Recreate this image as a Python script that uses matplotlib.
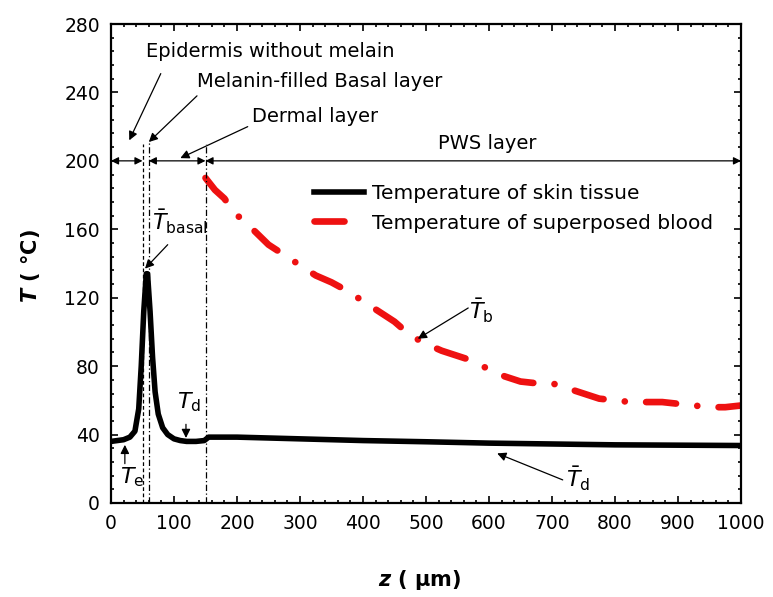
import matplotlib.pyplot as plt
import numpy as np

plt.rcParams['font.family'] = 'DejaVu Sans'
plt.rcParams['mathtext.fontset'] = 'dejavusans'

# skin tissue temperature (black)
z_skin = [0, 10, 20, 30, 38, 44, 48, 52, 56, 58, 62, 66, 70, 75, 82, 90,
          100, 110, 120, 135, 148, 155, 200, 300, 400, 500, 600, 700, 800, 900, 1000]
T_skin = [36, 36.5, 37, 38.5, 42, 55, 80, 112, 134, 134, 112, 85, 65, 52, 44, 40,
          37.5, 36.5, 36, 36, 36.5, 38.5, 38.5, 37.5, 36.5, 35.8, 35, 34.5, 34, 33.8, 33.6]

# superposed blood temperature (red)
z_blood = [150, 165, 180, 195, 210, 225, 250, 275, 300, 325, 350, 375, 400, 425,
           450, 475, 500, 525, 550, 575, 600, 625, 650, 675, 700, 725, 750, 775,
           800, 825, 850, 875, 900, 925, 950, 975, 1000]
T_blood = [190, 183, 178, 170, 165, 160, 151, 145, 139, 133, 129, 124, 118, 112,
           106, 98, 93, 89, 86, 83, 78, 74, 71, 70, 70, 67, 64, 61,
           60, 59, 59, 59, 58, 57, 56, 56, 57]

# layer boundaries (um)
z_bounds = [50, 60, 150]

fig = plt.figure(figsize=(7.73, 5.97), dpi=100)
ax = fig.add_axes([111/773, 1 - 503/597, 630/773, 479/597])

ax.plot(z_skin, T_skin, color='black', lw=4, solid_joinstyle='round',
        label='Temperature of skin tissue')
ax.plot(z_blood, T_blood, color='#ee1111', lw=4.8, dash_capstyle='round',
        linestyle=(0, (4.5, 3.2, 0.01, 3.2)),
        label='Temperature of superposed blood')

# layer boundary lines
ax.plot([z_bounds[0]] * 2, [0, 210], color='black', lw=0.9, ls=(0, (3, 2)))
ax.plot([z_bounds[1]] * 2, [0, 211], color='black', lw=0.9, ls=(0, (5, 2, 1, 2)))
ax.plot([z_bounds[2]] * 2, [0, 210], color='black', lw=0.9, ls=(0, (5, 2, 1, 2)))

# horizontal double arrows at T=200
arr = dict(arrowstyle='<|-|>', color='black', lw=0.9, mutation_scale=11,
           shrinkA=0, shrinkB=0)
for a, b in [(0, 50), (60, 150), (150, 1000)]:
    ax.annotate('', xy=(a, 200), xytext=(b, 200), arrowprops=arr)

# layer labels
one = dict(arrowstyle='-|>', color='black', lw=0.9, mutation_scale=13,
           shrinkA=0, shrinkB=0)
ax.text(55, 264, 'Epidermis without melain', fontsize=14, ha='left', va='center')
ax.annotate('', xy=(29, 212), xytext=(79, 251), arrowprops=one)
ax.text(136, 246.5, 'Melanin-filled Basal layer', fontsize=14, ha='left', va='center')
ax.annotate('', xy=(60, 211), xytext=(136.5, 238), arrowprops=one)
ax.text(224, 226, 'Dermal layer', fontsize=14, ha='left', va='center')
ax.annotate('', xy=(110, 201.6), xytext=(217, 220), arrowprops=one)
ax.text(597, 210, 'PWS layer', fontsize=14, ha='center', va='center')

# temperature markers
ax.text(110, 164, r'$\bar{T}_{\mathrm{basal}}$', fontsize=16, ha='center', va='center')
ax.annotate('', xy=(54, 137), xytext=(90, 151), arrowprops=one)
ax.text(33, 15, r'$T_{\mathrm{e}}$', fontsize=16, ha='center', va='center')
ax.annotate('', xy=(22, 34), xytext=(22, 23), arrowprops=one)
ax.text(124, 59, r'$T_{\mathrm{d}}$', fontsize=16, ha='center', va='center')
ax.annotate('', xy=(119, 38), xytext=(119, 46), arrowprops=one)
ax.text(588, 112, r'$\bar{T}_{\mathrm{b}}$', fontsize=16, ha='center', va='center')
ax.annotate('', xy=(487, 96), xytext=(567, 114), arrowprops=one)
ax.text(742, 14, r'$\bar{T}_{\mathrm{d}}$', fontsize=16, ha='center', va='center')
ax.annotate('', xy=(613, 29), xytext=(717, 13.5), arrowprops=one)

ax.set_xlim(0, 1000)
ax.set_ylim(0, 280)
ax.set_xticks(np.arange(0, 1001, 100))
ax.set_yticks(np.arange(0, 281, 40))
ax.set_xticks(np.arange(0, 1001, 20), minor=True)
ax.set_yticks(np.arange(0, 281, 8), minor=True)
ax.tick_params(which='both', direction='in', top=True, right=True, width=1.2,
               labelsize=13.5)
ax.tick_params(which='major', length=5, pad=8)
ax.tick_params(which='minor', length=2.5)
for s in ax.spines.values():
    s.set_linewidth(1.6)

ax.set_xlabel(r'$\mathbfit{z}$ ( μm)', fontsize=15, fontweight='bold')
ax.set_ylabel(r'$\mathbfit{T}$ ( °C)', fontsize=15, fontweight='bold')
ax.xaxis.set_label_coords(0.49, -0.135)
ax.yaxis.set_label_coords(-0.11, 0.495)

ax.legend(loc='upper left', bbox_to_anchor=(0.322, 0.665), frameon=False,
          fontsize=14.5, handlelength=2.5, handletextpad=0.4, labelspacing=0.5,
          borderpad=0, borderaxespad=0)

plt.savefig('out.png', dpi=100)
